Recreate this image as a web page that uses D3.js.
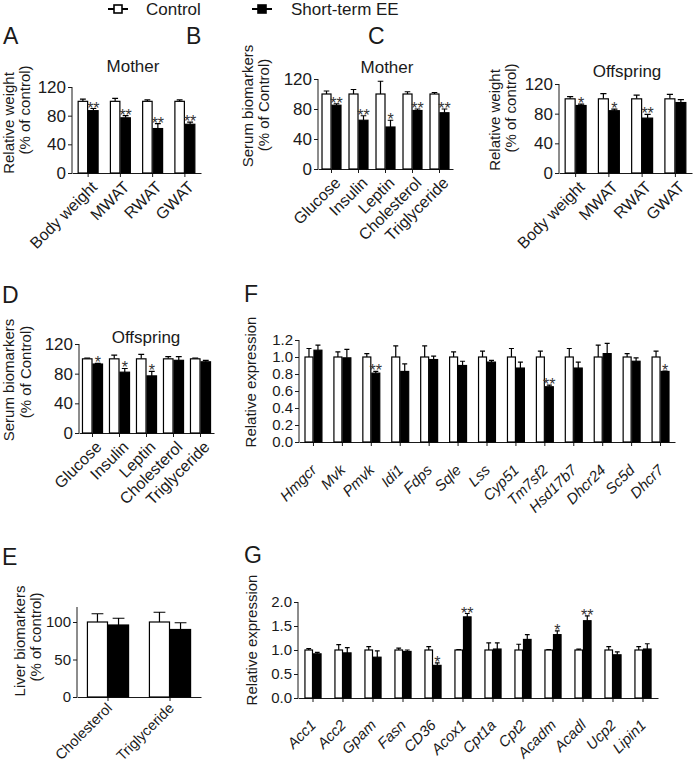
<!DOCTYPE html>
<html><head><meta charset="utf-8">
<script src="https://cdn.jsdelivr.net/npm/d3@7"></script>
<style>
html,body{margin:0;padding:0;background:#fff;}
svg{display:block;font-family:"Liberation Sans",Arial,sans-serif;}
</style></head>
<body>
<svg id="chart" width="693" height="766"></svg>
<script>
// ---------- DATA ----------
const legendLabels = ["Control", "Short-term EE"];

const catWeight = ["Body weight", "MWAT", "RWAT", "GWAT"];
const catSerum = ["Glucose", "Insulin", "Leptin", "Cholesterol", "Triglyceride"];
const catLiver = ["Cholesterol", "Triglyceride"];
const genesF = ["Hmgcr","Mvk","Pmvk","Idi1","Fdps","Sqle","Lss","Cyp51","Tm7sf2","Hsd17b7","Dhcr24","Sc5d","Dhcr7"];
const genesG = ["Acc1","Acc2","Gpam","Fasn","CD36","Acox1","Cpt1a","Cpt2","Acadm","Acadl","Ucp2","Lipin1"];

// A: Mother relative weight
const ctrlA = [100, 100, 100, 100];
const ctrlErrA = [3, 4, 2, 2];
const eeA = [87, 77, 62, 68];
const eeErrA = [3, 3, 7, 3];
const sigA = ["**", "**", "**", "**"];

// B: Mother serum biomarkers
const ctrlB = [100, 100, 100, 100, 100];
const ctrlErrB = [4, 6, 17, 3, 2];
const eeB = [85, 65, 56, 78, 75];
const eeErrB = [2, 6, 9, 2, 5];
const sigB = ["**", "**", "*", "**", "**"];

// C: Offspring relative weight
const ctrlC = [100, 100, 100, 100];
const ctrlErrC = [3, 7, 5, 6];
const eeC = [91, 84, 74, 95];
const eeErrC = [2, 2, 5, 4];
const sigC = ["*", "*", "**", ""];

// D: Offspring serum biomarkers
const ctrlD = [100, 100, 100, 100, 100];
const ctrlErrD = [1, 5, 6, 3, 1];
const eeD = [93, 82, 77, 98, 96];
const eeErrD = [1, 5, 6, 5, 2];
const sigD = ["*", "*", "*", "", ""];

// E: Liver biomarkers
const ctrlE = [100, 100];
const ctrlErrE = [11, 13];
const eeE = [96, 90];
const eeErrE = [9, 9];
const sigE = ["", ""];

// F: cholesterol synthesis genes
const ctrlF = [1,1,1,1,1,1,1,1,1,1,1,1,1];
const ctrlErrF = [0.10,0.06,0.04,0.13,0.13,0.06,0.07,0.10,0.07,0.10,0.14,0.04,0.07];
const eeF = [1.08,0.99,0.81,0.83,0.97,0.90,0.94,0.87,0.65,0.87,1.04,0.95,0.83];
const eeErrF = [0.06,0.10,0.02,0.09,0.04,0.05,0.02,0.07,0.02,0.07,0.12,0.04,0.005];
const sigF = ["","","**","","","","","","**","","","","*"];

// G: lipid metabolism genes
const ctrlG = [1,1,1,1,1,1,1,1,1,1,1,1];
const ctrlErrG = [0.03,0.11,0.07,0.04,0.07,0.01,0.15,0.12,0.01,0.02,0.07,0.07];
const eeG = [0.92,0.94,0.85,0.97,0.68,1.69,1.02,1.22,1.32,1.61,0.90,1.02];
const eeErrG = [0.03,0.11,0.13,0.03,0.05,0.07,0.13,0.10,0.08,0.10,0.06,0.11];
const sigG = ["","","","","*","**","","","*","**","",""];

const ticksPct = [0, 40, 80, 120];
const ticksLiver = [0, 50, 100];
const ticksF = [0, 0.2, 0.4, 0.6, 0.8, 1.0, 1.2];
const ticksG = [0, 0.5, 1.0, 1.5, 2.0];

// ---------- DRAWING ----------
const svg = d3.select("#chart");
const INK = "#1a1a1a";

function panel(o) {
  const g = svg.append("g");
  const x = d3.scaleBand().domain(o.cats).range(o.xr).paddingInner(o.pad).paddingOuter(o.pad / 2);
  const sub = d3.scaleBand().domain([0, 1]).range([0, x.bandwidth()]);
  const y = d3.scaleLinear().domain(o.yd).range(o.yr);

  // axes
  const ya = g.append("g").attr("transform", `translate(${o.xr[0]},0)`)
    .call(d3.axisLeft(y).tickValues(o.ticks).tickFormat(o.fmt).tickSize(4).tickSizeOuter(0).tickPadding(2));
  ya.selectAll("text").attr("font-size", o.tickFont).attr("fill", INK);
  ya.selectAll("line,path").attr("stroke", INK);
  ya.select("path").attr("d", `M0,${o.yr[0]}V${o.yr[1]}`);

  const xa = g.append("g").attr("transform", `translate(0,${o.yr[0]})`)
    .call(d3.axisBottom(x).tickSize(4).tickSizeOuter(0).tickFormat(""));
  xa.selectAll("line,path").attr("stroke", INK);

  // category labels
  g.selectAll(".cl").data(o.cats).join("text")
    .attr("transform", d => `translate(${x(d) + x.bandwidth() / 2 + o.lx},${o.yr[0] + o.ly}) rotate(-45)`)
    .attr("text-anchor", "end")
    .attr("font-size", o.labFont)
    .attr("font-style", o.italic ? "italic" : "normal")
    .attr("fill", INK)
    .text(d => d);

  const series = [
    { v: o.ctrl, e: o.ctrlErr, fill: "#fff", k: 0 },
    { v: o.ee, e: o.eeErr, fill: "#000", k: 1 }
  ];
  series.forEach(s => {
    const bx = i => x(o.cats[i]) + sub(s.k);
    const bw = sub.bandwidth();
    // error bars (upward)
    g.selectAll(null).data(s.v).join("path")
      .attr("d", (v, i) => {
        const cx = bx(i) + bw / 2, top = y(v + s.e[i]), cw = bw * 0.28;
        return `M${cx},${y(v)}V${top}M${cx - cw},${top}H${cx + cw}`;
      })
      .attr("stroke", "#000").attr("stroke-width", 1.2).attr("fill", "none");
    g.selectAll(null).data(s.v).join("rect")
      .attr("x", (v, i) => bx(i) + 0.5)
      .attr("y", v => y(v))
      .attr("width", bw - 1)
      .attr("height", v => y(0) - y(v))
      .attr("fill", s.fill).attr("stroke", "#000").attr("stroke-width", 1.2);
  });

  // significance stars above EE bars
  g.selectAll(".sig").data(o.sig).join("text")
    .attr("x", (s, i) => x(o.cats[i]) + sub(1) + sub.bandwidth() / 2)
    .attr("y", (s, i) => y(o.ee[i] + o.eeErr[i]) + 5)
    .attr("text-anchor", "middle")
    .attr("font-size", 16).attr("fill", "#333")
    .text(s => s);

  if (o.title) {
    g.append("text").attr("x", o.title[1]).attr("y", o.title[2])
      .attr("text-anchor", "middle").attr("font-size", 17).attr("fill", INK).text(o.title[0]);
  }
  o.ytitle.forEach(t => {
    g.append("text").attr("transform", `translate(${t[1]},${t[2]}) rotate(-90)`)
      .attr("text-anchor", "middle").attr("font-size", 15).attr("fill", INK).text(t[0]);
  });
  g.append("text").attr("x", o.letter[1]).attr("y", o.letter[2])
    .attr("font-size", 23).attr("fill", INK).text(o.letter[0]);
}

const f0 = d3.format("d"), f1 = d3.format(".1f");

panel({ cats: catWeight, ctrl: ctrlA, ctrlErr: ctrlErrA, ee: eeA, eeErr: eeErrA, sig: sigA,
  xr: [72, 201], pad: 0.35, yd: [0, 120], yr: [173, 87], ticks: ticksPct, fmt: f0, tickFont: 17,
  labFont: 16, lx: 10, ly: 15, italic: false, title: ["Mother", 133, 72],
  ytitle: [["Relative weight", 14, 123], ["(% of control)", 30, 110]], letter: ["A", 3, 44] });

panel({ cats: catSerum, ctrl: ctrlB, ctrlErr: ctrlErrB, ee: eeB, eeErr: eeErrB, sig: sigB,
  xr: [318, 453], pad: 0.26, yd: [0, 120], yr: [169, 79], ticks: ticksPct, fmt: f0, tickFont: 17,
  labFont: 16, lx: 10, ly: 15, italic: false, title: ["Mother", 387, 73],
  ytitle: [["Serum biomarkers", 253, 106], ["(% of Control)", 269, 105]], letter: ["B", 186, 44] });

panel({ cats: catWeight, ctrl: ctrlC, ctrlErr: ctrlErrC, ee: eeC, eeErr: eeErrC, sig: sigC,
  xr: [559, 692], pad: 0.34, yd: [0, 120], yr: [173, 84], ticks: ticksPct, fmt: f0, tickFont: 17,
  labFont: 16, lx: 10, ly: 15, italic: false, title: ["Offspring", 627, 77],
  ytitle: [["Relative weight", 500, 120], ["(% of control)", 516, 108]], letter: ["C", 368, 44] });

panel({ cats: catSerum, ctrl: ctrlD, ctrlErr: ctrlErrD, ee: eeD, eeErr: eeErrD, sig: sigD,
  xr: [79, 214], pad: 0.22, yd: [0, 120], yr: [433, 344], ticks: ticksPct, fmt: f0, tickFont: 17,
  labFont: 16, lx: 10, ly: 15, italic: false, title: ["Offspring", 146, 343],
  ytitle: [["Serum biomarkers", 14, 380], ["(% of Control)", 31, 372]], letter: ["D", 2, 303] });

panel({ cats: catLiver, ctrl: ctrlE, ctrlErr: ctrlErrE, ee: eeE, eeErr: eeErrE, sig: sigE,
  xr: [77, 201], pad: 0.32, yd: [0, 120], yr: [697, 607], ticks: ticksLiver, fmt: f0, tickFont: 15,
  labFont: 14.5, lx: 5, ly: 12, italic: false, title: null,
  ytitle: [["Liver biomarkers", 25, 641], ["(% of control)", 41, 637]], letter: ["E", 2, 565] });

panel({ cats: genesF, ctrl: ctrlF, ctrlErr: ctrlErrF, ee: eeF, eeErr: eeErrF, sig: sigF,
  xr: [299, 675], pad: 0.38, yd: [0, 1.2], yr: [442, 340], ticks: ticksF, fmt: f1, tickFont: 15,
  labFont: 15, lx: 4, ly: 29, italic: true, title: null,
  ytitle: [["Relative expression", 256, 382]], letter: ["F", 244, 302] });

panel({ cats: genesG, ctrl: ctrlG, ctrlErr: ctrlErrG, ee: eeG, eeErr: eeErrG, sig: sigG,
  xr: [298, 658], pad: 0.43, yd: [0, 2], yr: [698, 602], ticks: ticksG, fmt: f1, tickFont: 15,
  labFont: 15, lx: 4, ly: 28, italic: true, title: null,
  ytitle: [["Relative expression", 257, 640]], letter: ["G", 244, 563] });

// ---------- LEGEND ----------
const leg = svg.append("g");
const legX = [118, 262], legTextX = [146, 291], legFill = ["#fff", "#000"];
legendLabels.forEach((lab, i) => {
  leg.append("line").attr("x1", legX[i] - 10).attr("x2", legX[i] + 10).attr("y1", 9).attr("y2", 9)
    .attr("stroke", "#000").attr("stroke-width", 2);
  leg.append("rect").attr("x", legX[i] - 4).attr("y", 5).attr("width", 8).attr("height", 8)
    .attr("fill", legFill[i]).attr("stroke", "#000").attr("stroke-width", 1.6);
  leg.append("text").attr("x", legTextX[i]).attr("y", 15).attr("font-size", 17).attr("fill", INK).text(lab);
});
</script>
</body></html>
